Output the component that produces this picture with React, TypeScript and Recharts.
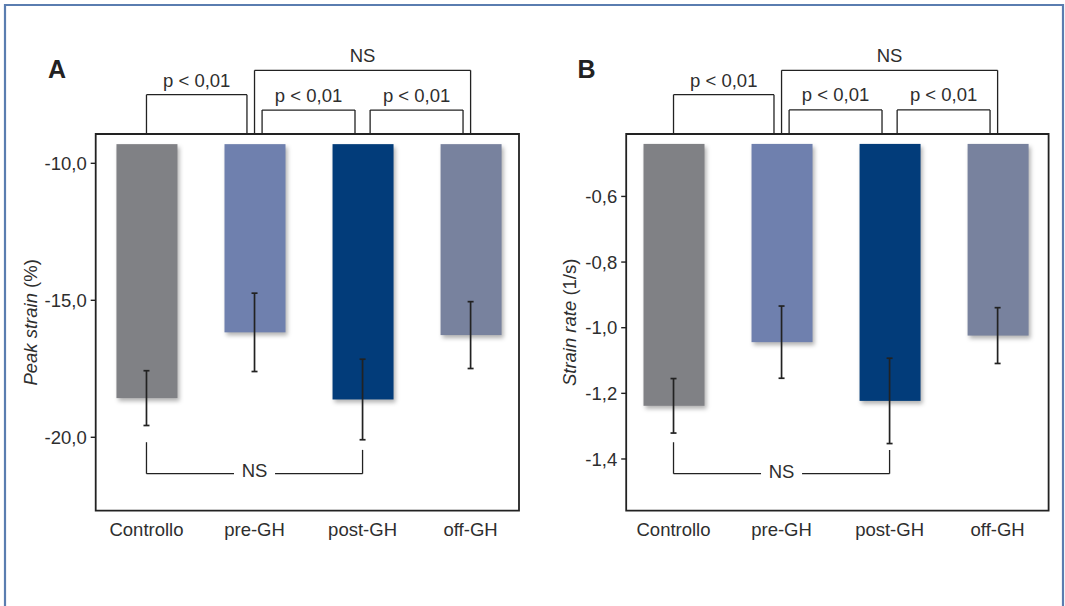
import {
  Bar,
  Cell,
  ComposedChart,
  ErrorBar,
  Line,
  ReferenceArea,
  ReferenceDot,
  ReferenceLine,
  XAxis,
  YAxis,
} from "recharts";

const categories = ["Controllo", "pre-GH", "post-GH", "off-GH"];

// Panel A: peak strain (%)
const peakStrainMean = [-18.57, -16.17, -18.62, -16.27];
const peakStrainErr = [1.0, 1.43, 1.47, 1.22];
const peakStrainTicks = [-10, -15, -20];

// Panel B: strain rate (1/s)
const strainRateMean = [-1.238, -1.044, -1.223, -1.024];
const strainRateErr = [0.083, 0.11, 0.13, 0.085];
const strainRateTicks = [-0.6, -0.8, -1.0, -1.2, -1.4];

const FONT = '"Liberation Sans", Arial, Helvetica, sans-serif';
const INK = "#222";
const TEXT = "#2e2e2e";
const FS = 18.5;
const barColors = ["#808185", "#6f80ae", "#023c7a", "#78829e"];

// significance brackets, x in category units, tier = height level
const topBrackets = [
  { from: 0, to: 0.93, label: "p < 0,01", tier: 1 },
  { from: 1, to: 3, label: "NS", tier: 0 },
  { from: 1.07, to: 1.93, label: "p < 0,01", tier: 2 },
  { from: 2.07, to: 2.93, label: "p < 0,01", tier: 2 },
];
const bottomBracket = { from: 0, to: 2, gapFrom: 0.81, gapTo: 1.19, label: "NS" };

type Levels = {
  tiers: { line: number; label: number }[];
  bottom: { leftTop: number; rightTop: number; line: number; label: number };
};

const levelsA: Levels = {
  tiers: [
    { line: -6.606, label: -6.047 },
    { line: -7.496, label: -6.96 },
    { line: -8.055, label: -7.507 },
  ],
  bottom: { leftTop: -20.18, rightTop: -20.46, line: -21.33, label: -21.22 },
};

const levelsB: Levels = {
  tiers: [
    { line: -0.2157, label: -0.1706 },
    { line: -0.29, label: -0.2474 },
    { line: -0.3363, label: -0.2895 },
  ],
  bottom: { leftTop: -1.349, rightTop: -1.3726, line: -1.4449, label: -1.4388 },
};

function ShadowBar(props: any) {
  const { x, y, width, height, fill } = props;
  if (x == null || !width || !height) return null;
  const top = height < 0 ? y + height : y;
  return (
    <rect
      x={x}
      y={top}
      width={width}
      height={Math.abs(height)}
      fill={fill}
      style={{ filter: "drop-shadow(2px 3px 2px rgba(0,0,0,0.3))" }}
    />
  );
}

interface PanelProps {
  means: number[];
  errs: number[];
  base: number;
  ticks: number[];
  yDomain: [number, number];
  xDomain: [number, number];
  levels: Levels;
  titleMain: string;
  titleUnit: string;
  titleX: number;
  width: number;
  axisWidth: number;
  marginRight: number;
}

function Panel(p: PanelProps) {
  const rows = categories.map((name, i) => ({
    pos: i,
    name,
    mean: p.means[i],
    err: p.errs[i],
  }));
  const plotTop = p.yDomain[1];
  const fmt = (v: number) => v.toFixed(1).replace(".", ",");

  const seg = (key: string, x1: number, y1: number, x2: number, y2: number) => (
    <ReferenceLine
      key={key}
      segment={[
        { x: x1, y: y1 },
        { x: x2, y: y2 },
      ]}
      stroke={INK}
      strokeWidth={1.3}
      ifOverflow="visible"
    />
  );
  const note = (key: string, x: number, y: number, text: string) => (
    <ReferenceDot
      key={key}
      x={x}
      y={y}
      r={0}
      stroke="none"
      ifOverflow="visible"
      label={{
        value: text,
        position: "center",
        fill: TEXT,
        fontSize: FS,
        fontFamily: FONT,
      }}
    />
  );

  const marks: any[] = [];
  topBrackets.forEach((b, i) => {
    const lv = p.levels.tiers[b.tier];
    marks.push(seg(`l${i}`, b.from, plotTop, b.from, lv.line));
    marks.push(seg(`h${i}`, b.from, lv.line, b.to, lv.line));
    marks.push(seg(`r${i}`, b.to, lv.line, b.to, plotTop));
    marks.push(note(`t${i}`, (b.from + b.to) / 2, lv.label, b.label));
  });
  const bb = bottomBracket;
  const bl = p.levels.bottom;
  marks.push(seg("bl", bb.from, bl.leftTop, bb.from, bl.line));
  marks.push(seg("bh1", bb.from, bl.line, bb.gapFrom, bl.line));
  marks.push(seg("bh2", bb.gapTo, bl.line, bb.to, bl.line));
  marks.push(seg("br", bb.to, bl.line, bb.to, bl.rightTop));
  marks.push(note("bt", (bb.gapFrom + bb.gapTo) / 2, bl.label, bb.label));

  const yTitle = (lp: any) => {
    const vb = lp.viewBox;
    const cx = vb.x + p.titleX;
    const cy = vb.y + vb.height / 2;
    return (
      <text
        x={cx}
        y={cy}
        transform={`rotate(-90 ${cx} ${cy})`}
        textAnchor="middle"
        fill={TEXT}
        fontSize={FS}
        fontFamily={FONT}
      >
        <tspan fontStyle="italic">{p.titleMain}</tspan>
        <tspan>{p.titleUnit}</tspan>
      </text>
    );
  };

  return (
    <ComposedChart
      width={p.width}
      height={606}
      data={rows}
      margin={{ top: 134, right: p.marginRight, bottom: 55.3, left: 0 }}
    >
      <XAxis
        dataKey="pos"
        type="number"
        domain={p.xDomain}
        ticks={[0, 1, 2, 3]}
        interval={0}
        allowDataOverflow
        tickFormatter={(v: number) => categories[v]}
        axisLine={false}
        tickLine={false}
        tickSize={6}
        tickMargin={6}
        height={40}
        tick={{ fill: TEXT, fontSize: FS, fontFamily: FONT }}
      />
      <YAxis
        type="number"
        domain={p.yDomain}
        ticks={p.ticks}
        allowDataOverflow
        tickFormatter={fmt}
        width={p.axisWidth}
        axisLine={false}
        tickSize={5}
        tickMargin={4}
        tickLine={{ stroke: INK, strokeWidth: 1.4 }}
        tick={{ fill: TEXT, fontSize: FS, fontFamily: FONT }}
        label={yTitle}
      />
      <ReferenceArea
        x1={p.xDomain[0]}
        x2={p.xDomain[1]}
        y1={p.yDomain[0]}
        y2={p.yDomain[1]}
        fill="none"
        fillOpacity={0}
        stroke={INK}
        strokeWidth={1.8}
        ifOverflow="visible"
      />
      <Bar
        dataKey={(d: any) => [p.base, d.mean]}
        barSize={61}
        shape={<ShadowBar />}
        isAnimationActive={false}
      >
        {rows.map((r, i) => (
          <Cell key={r.name} fill={barColors[i]} />
        ))}
      </Bar>
      <Line
        dataKey="mean"
        stroke="none"
        dot={false}
        activeDot={false}
        isAnimationActive={false}
      >
        <ErrorBar
          dataKey="err"
          direction="y"
          width={3}
          stroke={INK}
          strokeWidth={1.7}
        />
      </Line>
      {marks}
    </ComposedChart>
  );
}

export default function App() {
  return (
    <div
      style={{
        position: "absolute",
        left: 0,
        top: 0,
        width: 1065,
        height: 606,
        background: "#fff",
        overflow: "hidden",
      }}
    >
      <div style={{ position: "absolute", left: 0, top: 0 }}>
        <Panel
          means={peakStrainMean}
          errs={peakStrainErr}
          base={-9.3}
          ticks={peakStrainTicks}
          yDomain={[-22.68, -8.93]}
          xDomain={[-0.47, 3.448]}
          levels={levelsA}
          titleMain="Peak strain"
          titleUnit=" (%)"
          titleX={36.7}
          width={530}
          axisWidth={95.7}
          marginRight={11}
        />
      </div>
      <div style={{ position: "absolute", left: 530, top: 0 }}>
        <Panel
          means={strainRateMean}
          errs={strainRateErr}
          base={-0.44}
          ticks={strainRateTicks}
          yDomain={[-1.5576, -0.4098]}
          xDomain={[-0.438, 3.472]}
          levels={levelsB}
          titleMain="Strain rate"
          titleUnit=" (1/s)"
          titleX={45.7}
          width={535}
          axisWidth={96.2}
          marginRight={16.4}
        />
      </div>
      <svg
        width={1065}
        height={606}
        style={{ position: "absolute", left: 0, top: 0, pointerEvents: "none" }}
      >
        <path
          d="M5 610 V5 H1063 V610"
          fill="none"
          stroke="#5a7db0"
          strokeWidth={2.2}
        />
        <text x={48} y={78.3} fontSize={25} fontWeight="bold" fontFamily={FONT} fill="#222">
          A
        </text>
        <text x={577.5} y={78.3} fontSize={25} fontWeight="bold" fontFamily={FONT} fill="#222">
          B
        </text>
      </svg>
    </div>
  );
}
